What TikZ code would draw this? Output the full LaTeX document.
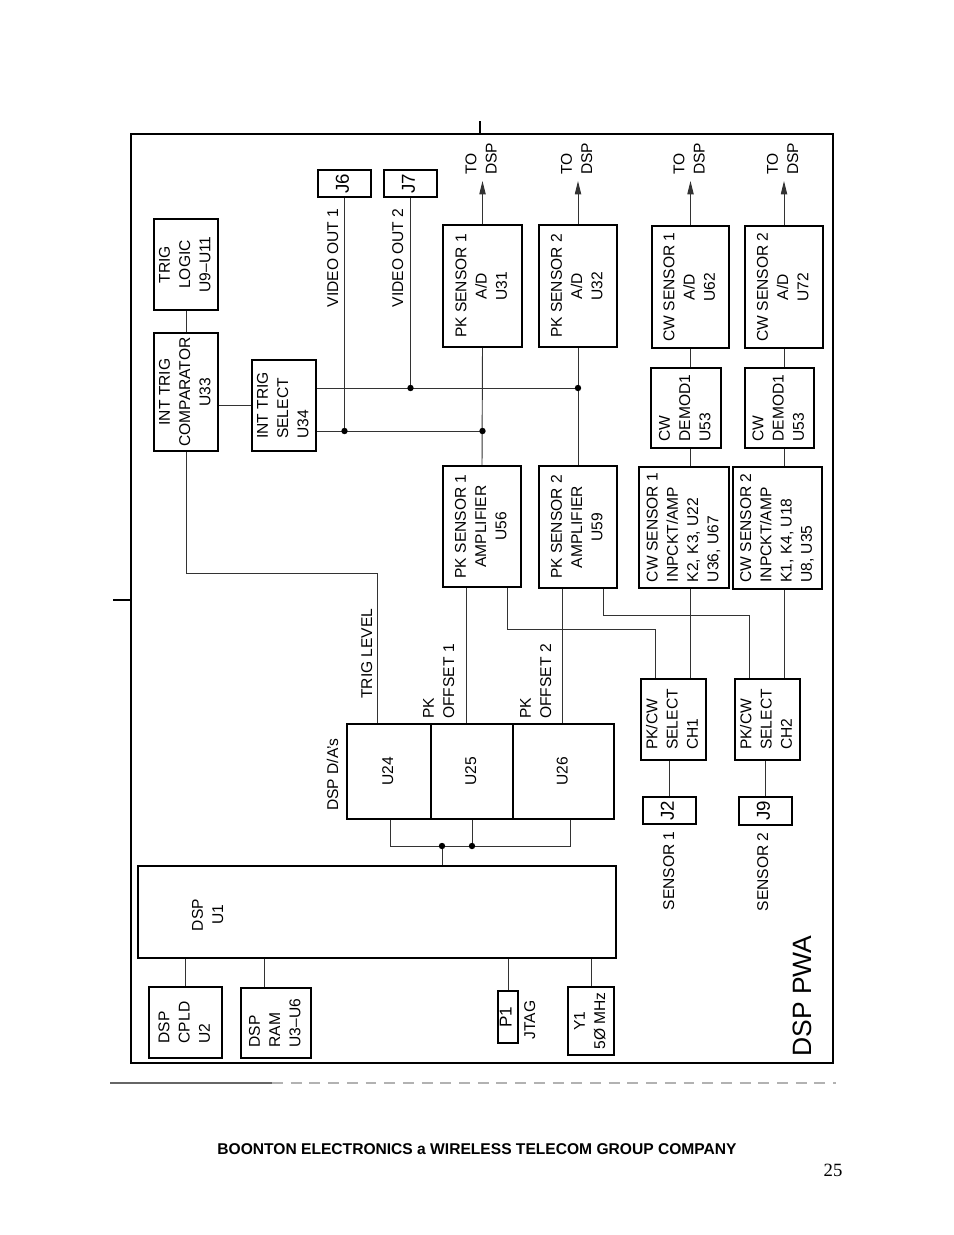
\documentclass[tikz,border=0pt]{standalone}
\usepackage{fontspec}
\setmainfont{Liberation Sans}
\newfontfamily\pgnofont{Liberation Serif}
\usetikzlibrary{arrows.meta}
\newcommand{\rtxt}[2][c]{\rotatebox{90}{\begin{tabular}{@{}#1@{}}#2\end{tabular}}}

\begin{document}
\begin{tikzpicture}[x=0.6415pt, y=-0.6415pt,
  blk/.style={draw, line width=1.3pt, inner sep=0pt},
  sz/.style 2 args={minimum width=0.6415pt*#1, minimum height=0.6415pt*#2},
  wire/.style={line width=0.6pt, black!80},
  lbl/.style={inner sep=0pt},
  jack/.style={font=\fontsize{12}{14}\selectfont},
  todsp/.style={wire, -{Triangle[length=8.5pt,width=4pt]}},
  font=\fontsize{10}{13}\selectfont]
\useasboundingbox (0,0) rectangle (954,1235);

% board outline
\draw[line width=1.6pt] (131,134) rectangle (833,1063);
\draw[line width=1pt] (480,121) -- (480,134);
\draw[line width=1pt] (113,600) -- (131,600);
\draw[black!60, line width=0.8pt] (110,1083) -- (272,1083);
\draw[black!30, line width=0.8pt, dash pattern=on 7pt off 5pt] (272,1083) -- (836,1083);

% trigger
\node[blk, sz={64}{91}] (trlogic) at (186,264.5) {\rtxt{TRIG\\LOGIC\\U9--U11}};
\node[blk, sz={64}{118}] (trcomp) at (186,392) {\rtxt{INT TRIG\\COMPARATOR\\U33}};
\node[blk, sz={64}{91}] (trsel) at (284,405.5) {\rtxt[l]{INT TRIG\\SELECT\\U34}};
\node[blk, jack, sz={53}{27}] (jsix) at (344.5,183.5) {\rtxt{J6}};
\node[blk, jack, sz={53}{27}] (jseven) at (410.5,183.5) {\rtxt{J7}};
\node[lbl] (vo1) at (334,258) {\rtxt{VIDEO OUT 1}};
\node[lbl] (vo2) at (399,258) {\rtxt{VIDEO OUT 2}};

% A/D converters
\node[blk, sz={79}{122}] (pkad1) at (482.5,286) {\rtxt{PK SENSOR 1\\A/D\\U31}};
\node[blk, sz={78}{122}] (pkad2) at (578,286) {\rtxt{PK SENSOR 2\\A/D\\U32}};
\node[blk, sz={77}{122}] (cwad1) at (690.5,287) {\rtxt{CW SENSOR 1\\A/D\\U62}};
\node[blk, sz={78}{122}] (cwad2) at (784,287) {\rtxt{CW SENSOR 2\\A/D\\U72}};
\node[blk, sz={70}{80}] (cwdem1) at (686,408) {\rtxt[l]{CW\\DEMOD1\\U53}};
\node[blk, sz={69}{80}] (cwdem2) at (779.5,408) {\rtxt[l]{CW\\DEMOD1\\U53}};

% input stages
\node[blk, sz={78}{121}] (pkamp1) at (482,526.5) {\rtxt{PK SENSOR 1\\AMPLIFIER\\U56}};
\node[blk, sz={78}{122}] (pkamp2) at (578,527) {\rtxt{PK SENSOR 2\\AMPLIFIER\\U59}};
\node[blk, sz={90}{121}] (cwin1) at (684,527.5) {\rtxt[l]{CW SENSOR 1\\INPCKT/AMP\\K2, K3, U22\\U36, U67}};
\node[blk, sz={89}{122}] (cwin2) at (777.5,528) {\rtxt[l]{CW SENSOR 2\\INPCKT/AMP\\K1, K4, U18\\U8, U35}};
\node[blk, sz={65}{81}] (sel1) at (673.5,719.5) {\rtxt[l]{PK/CW\\SELECT\\CH1}};
\node[blk, sz={65}{81}] (sel2) at (767.5,719.5) {\rtxt[l]{PK/CW\\SELECT\\CH2}};
\node[blk, jack, sz={53}{27}] (jtwo) at (669.5,810.5) {\rtxt{J2}};
\node[blk, jack, sz={53}{28}] (jnine) at (765.5,811) {\rtxt{J9}};
\node[lbl, anchor=north] (sen1) at (670,831) {\rtxt{SENSOR 1}};
\node[lbl, anchor=north] (sen2) at (764,832) {\rtxt{SENSOR 2}};

% D/A's and DSP
\node[blk, sz={84}{95}] (dac1) at (389,771.5) {\rtxt{U24}};
\node[blk, sz={82}{95}] (dac2) at (472,771.5) {\rtxt{U25}};
\node[blk, sz={101}{95}] (dac3) at (563.5,771.5) {\rtxt{U26}};
\node[lbl, anchor=south] (dalbl) at (334,811) {\rtxt{DSP D/A's}};
\node[lbl, anchor=south] (trlev) at (368,699) {\rtxt{TRIG LEVEL}};
\node[lbl, anchor=south] (offl1) at (440,719) {\rtxt[l]{PK\\OFFSET 1}};
\node[lbl, anchor=south] (offl2) at (537,719) {\rtxt[l]{PK\\OFFSET 2}};
\node[blk, sz={478}{92}] (dsp) at (377,912) {};
\node[lbl] (dsplbl) at (209,915) {\rtxt{DSP\\U1}};
\node[blk, sz={73}{71}] (cpld) at (185.5,1022.5) {\rtxt[l]{DSP\\CPLD\\U2}};
\node[blk, sz={70}{70}] (ram) at (276,1023) {\rtxt[l]{DSP\\RAM\\U3--U6}};
\node[blk, sz={20}{52}, font=\fontsize{11}{12}\selectfont] (pone) at (508,1017) {\rtxt{P1}};
\node[lbl] (jtag) at (531,1020) {\rtxt{JTAG}};
\node[blk, sz={46}{68}] (yone) at (591,1021) {\rtxt{Y1\\5Ø MHz}};
\node[lbl, anchor=south, font=\fontsize{17}{20}\selectfont] (pwa) at (805,1057) {\rtxt{DSP PWA}};

% helper points
\coordinate (tdtop) at (0,181);
\coordinate (tdlbl) at (0,175);
\coordinate (busa) at (0,388);
\coordinate (busb) at (0,431);
\coordinate (tlv) at (377,573);
\coordinate (off1) at (466,0);
\coordinate (off2) at (562,0);
\coordinate (ka) at (507,629); \coordinate (kb) at (655,629);
\coordinate (kc) at (603,615); \coordinate (kd) at (749,615);
\coordinate (bl) at (390,846); \coordinate (bm) at (442,846);
\coordinate (bn) at (472,846); \coordinate (br) at (570,846);
\coordinate (ramx) at (264,0);

% outputs to DSP
\foreach \b in {pkad1,pkad2,cwad1,cwad2}{
  \draw[todsp] (\b.north) -- (\b.north |- tdtop);
  \node[lbl, anchor=south] (to\b) at (\b.north |- tdlbl) {\rtxt[l]{TO\\DSP}};
}

% trigger wiring
\draw[wire] (trlogic.south) -- (trcomp.north);
\draw[wire] (trcomp.east |- trsel.west) -- (trsel.west);
\draw[wire] (trcomp.south) |- (tlv) -- (tlv |- dac1.north);
\draw[wire] (trsel.east |- busa) -- (pkad2.south |- busa);
\draw[wire] (trsel.east |- busb) -- (pkad1.south |- busb);
\draw[wire] (jsix.south) -- (jsix.south |- busb);
\draw[wire] (jseven.south) -- (jseven.south |- busa);
\coordinate (ja) at (jsix.south |- busb);
\coordinate (jb) at (jseven.south |- busa);
\coordinate (jc) at (pkad1.south |- busb);
\coordinate (jd) at (pkad2.south |- busa);

% signal chains
\draw[wire] (pkad1.south) -- (pkamp1.north);
\draw[wire] (pkad2.south) -- (pkamp2.north);
\draw[wire] (cwad1.south) -- (cwad1.south |- cwdem1.north);
\draw[wire] (cwad2.south) -- (cwad2.south |- cwdem2.north);
\draw[wire] (cwad1.south |- cwdem1.south) -- (cwad1.south |- cwin1.north);
\draw[wire] (cwad2.south |- cwdem2.south) -- (cwad2.south |- cwin2.north);
\draw[wire] (pkamp1.south -| off1) -- (dac2.north -| off1);
\draw[wire] (pkamp2.south -| off2) -- (dac3.north -| off2);
\draw[wire] (pkamp1.south -| ka) -- (ka) -- (kb) -- (sel1.north -| kb);
\draw[wire] (pkamp2.south -| kc) -- (kc) -- (kd) -- (sel2.north -| kd);
\draw[wire] (cwad1.south |- cwin1.south) -- (cwad1.south |- sel1.north);
\draw[wire] (cwad2.south |- cwin2.south) -- (cwad2.south |- sel2.north);
\draw[wire] (jtwo.north |- sel1.south) -- (jtwo.north);
\draw[wire] (jnine.north |- sel2.south) -- (jnine.north);

% DSP bus
\draw[wire] (dac1.south -| bl) -- (bl) -- (br) -- (dac3.south -| br);
\draw[wire] (dac2.south -| bn) -- (bn);
\draw[wire] (bm) -- (bm |- dsp.north);
\draw[wire] (cpld.north |- dsp.south) -- (cpld.north);
\draw[wire] (ramx |- dsp.south) -- (ramx |- ram.north);
\draw[wire] (pone.north |- dsp.south) -- (pone.north);
\draw[wire] (yone.north |- dsp.south) -- (yone.north);

\foreach \c in {ja,jb,jc,jd,bm,bn}
  \fill (\c) circle (3.2);

% page footer
\node[font=\bfseries\fontsize{10}{12}\selectfont] (foot) at (477,1149) {BOONTON ELECTRONICS a WIRELESS TELECOM GROUP COMPANY};
\node[font=\pgnofont\fontsize{12}{14}\selectfont] (pgno) at (833,1170) {25};
\end{tikzpicture}
\end{document}
